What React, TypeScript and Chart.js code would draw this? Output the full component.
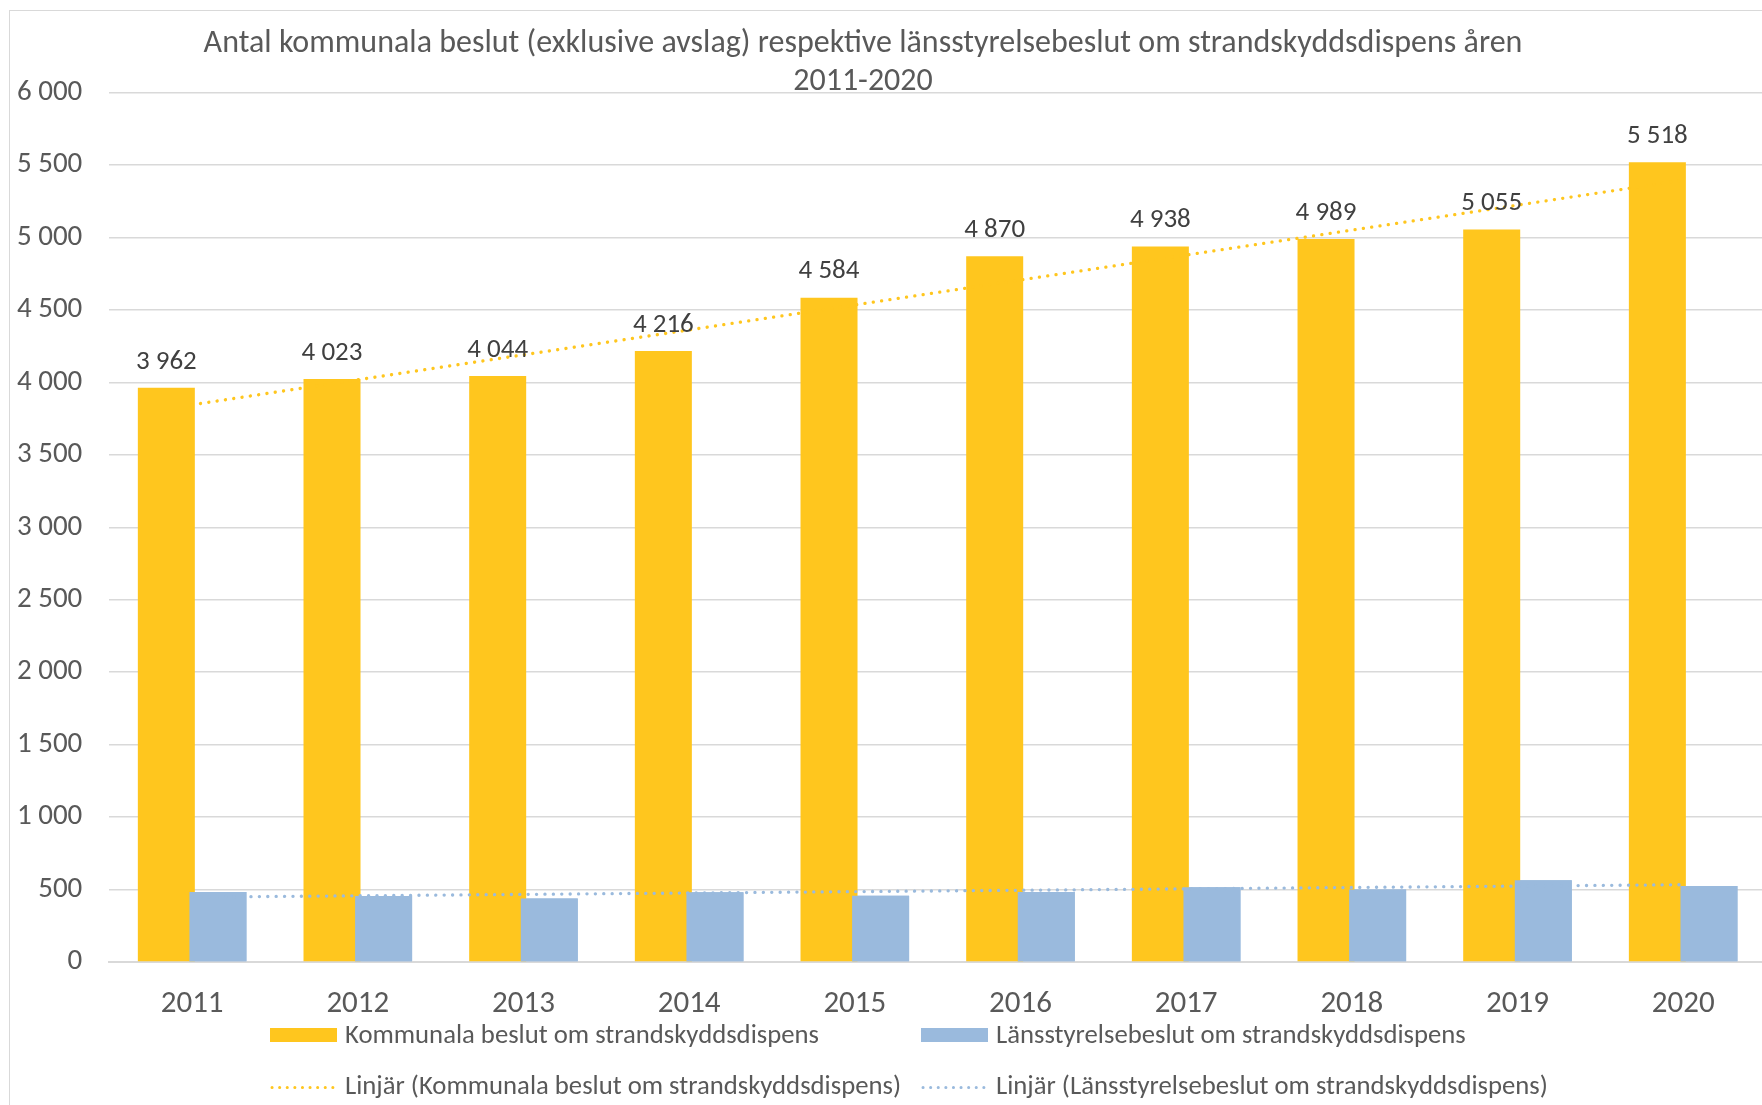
import { useEffect, useRef } from "react";
import { Chart, registerables } from "chart.js";

Chart.register(...registerables);

const years = ["2011", "2012", "2013", "2014", "2015", "2016", "2017", "2018", "2019", "2020"];
const kommunala = [3962, 4023, 4044, 4216, 4584, 4870, 4938, 4989, 5055, 5518];
const lansstyrelse = [483, 456, 438, 481, 458, 483, 516, 500, 564, 525];
const titleLines = [
  "Antal kommunala beslut (exklusive avslag) respektive länsstyrelsebeslut om strandskyddsdispens åren",
  "2011-2020",
];
const seriesNames = ["Kommunala beslut om strandskyddsdispens", "Länsstyrelsebeslut om strandskyddsdispens"];
const trendNames = [
  "Linjär (Kommunala beslut om strandskyddsdispens)",
  "Linjär (Länsstyrelsebeslut om strandskyddsdispens)",
];
const yMin = 0;
const yMax = 6000;
const yStep = 500;

const ORANGE = "#FFC61E";
const BLUE = "#9ABADD";
const TEXT = "#595959";
const LABEL = "#404040";
const GRID = "#D9D9D9";
const FONT = "Calibri, Carlito, Lato, sans-serif";

// least-squares linear trendline computed from the series (like Excel's "Linjär")
function linearTrend(values: number[]): number[] {
  const n = values.length;
  const xs = values.map((_, i) => i + 1);
  const mx = xs.reduce((a, b) => a + b, 0) / n;
  const my = values.reduce((a, b) => a + b, 0) / n;
  let sxy = 0;
  let sxx = 0;
  for (let i = 0; i < n; i++) {
    sxy += (xs[i] - mx) * (values[i] - my);
    sxx += (xs[i] - mx) * (xs[i] - mx);
  }
  const slope = sxy / sxx;
  return xs.map((x) => my + slope * (x - mx));
}

function fmt(v: number): string {
  const n = Math.round(v);
  if (n >= 1000) return `${Math.floor(n / 1000)} ${String(n % 1000).padStart(3, "0")}`;
  return String(n);
}

const CW = 1780;
const CH = 1100;
// chart area inside the canvas
const AREA_LEFT = 99.3;
const AREA_RIGHT = 1756;
const AREA_TOP = 81.5;
const AREA_BOTTOM = 951;
const X_AXIS_H = 60;

const titlePlugin = {
  id: "customTitle",
  afterDraw(chart: any) {
    const ctx = chart.ctx;
    ctx.save();
    ctx.fillStyle = TEXT;
    ctx.font = `32px ${FONT}`;
    ctx.textAlign = "center";
    ctx.textBaseline = "middle";
    ctx.fillText(titleLines[0], 853, 32.5);
    ctx.fillText(titleLines[1], 853, 71);
    ctx.restore();
  },
};

// Excel draws the second series over the first where the bars overlap
const overlapPlugin = {
  id: "overlapOrder",
  afterDatasetDraw(chart: any, args: any) {
    if (args.index === 0) {
      const meta = chart.getDatasetMeta(1);
      if (meta && meta.controller) meta.controller.draw();
    }
  },
};

const dataLabelPlugin = {
  id: "dataLabels",
  afterDatasetsDraw(chart: any) {
    const ctx = chart.ctx;
    const meta = chart.getDatasetMeta(0);
    ctx.save();
    ctx.fillStyle = LABEL;
    ctx.font = `27px ${FONT}`;
    ctx.textAlign = "center";
    ctx.textBaseline = "middle";
    meta.data.forEach((bar: any, i: number) => {
      ctx.fillText(fmt(kommunala[i]), bar.x, bar.y - 26);
    });
    ctx.restore();
  },
};

const legendPlugin = {
  id: "gridLegend",
  afterDraw(chart: any) {
    const ctx = chart.ctx;
    const cols = [260, 911];
    const rows = [1024, 1076.5];
    ctx.save();
    ctx.font = `26.7px ${FONT}`;
    ctx.textBaseline = "middle";
    ctx.textAlign = "left";
    const colors = [ORANGE, BLUE];
    for (let c = 0; c < 2; c++) {
      // bar swatch
      ctx.fillStyle = colors[c];
      ctx.fillRect(cols[c], rows[0] - 7, 67, 14);
      ctx.fillStyle = TEXT;
      ctx.fillText(seriesNames[c], cols[c] + 75, rows[0] + 1);
      // dotted line swatch
      ctx.strokeStyle = colors[c];
      ctx.lineWidth = 3;
      ctx.lineCap = "round";
      ctx.setLineDash([0.1, 7.5]);
      ctx.beginPath();
      ctx.moveTo(cols[c] + 2, rows[1]);
      ctx.lineTo(cols[c] + 67, rows[1]);
      ctx.stroke();
      ctx.setLineDash([]);
      ctx.fillStyle = TEXT;
      ctx.fillText(trendNames[c], cols[c] + 75, rows[1]);
    }
    ctx.restore();
  },
};

export default function App() {
  const ref = useRef<HTMLCanvasElement>(null);

  useEffect(() => {
    if (!ref.current) return;
    const barOpts = { barPercentage: 1.105, categoryPercentage: 0.6228 };
    const chart = new Chart(ref.current, {
      type: "bar",
      data: {
        labels: years,
        datasets: [
          {
            type: "bar",
            label: seriesNames[0],
            data: kommunala,
            backgroundColor: ORANGE,
            ...barOpts,
            order: 2,
          },
          {
            type: "bar",
            label: seriesNames[1],
            data: lansstyrelse,
            backgroundColor: BLUE,
            ...barOpts,
            order: 2,
          },
          {
            type: "line",
            label: trendNames[0],
            data: linearTrend(kommunala),
            borderColor: ORANGE,
            borderWidth: 3.3,
            borderDash: [0.1, 8.3],
            borderCapStyle: "round",
            pointRadius: 0,
            fill: false,
            tension: 0,
            order: 1,
          },
          {
            type: "line",
            label: trendNames[1],
            data: linearTrend(lansstyrelse),
            borderColor: BLUE,
            borderWidth: 3.3,
            borderDash: [0.1, 8.3],
            borderCapStyle: "round",
            pointRadius: 0,
            fill: false,
            tension: 0,
            order: 1,
          },
        ] as any,
      },
      options: {
        responsive: false,
        animation: false,
        events: [],
        layout: {
          padding: {
            left: 0,
            right: CW - AREA_RIGHT,
            top: AREA_TOP,
            bottom: CH - AREA_BOTTOM - X_AXIS_H,
          },
        },
        plugins: {
          legend: { display: false },
          title: { display: false },
          tooltip: { enabled: false },
        },
        scales: {
          x: {
            grid: { display: false },
            border: { display: true, color: GRID, width: 2 },
            ticks: { color: TEXT, font: { family: FONT, size: 31 }, padding: 16, maxRotation: 0 },
            afterFit: (s: any) => {
              s.height = X_AXIS_H;
            },
          },
          y: {
            min: yMin,
            max: yMax,
            ticks: {
              stepSize: yStep,
              padding: 27,
              color: TEXT,
              font: { family: FONT, size: 29 },
              callback: (v: any) => fmt(Number(v)),
            },
            grid: { color: GRID, lineWidth: 1.5, drawTicks: false },
            border: { display: false },
            afterFit: (s: any) => {
              s.width = AREA_LEFT;
            },
          },
        },
      },
      plugins: [titlePlugin, overlapPlugin, dataLabelPlugin, legendPlugin],
    });
    return () => chart.destroy();
  }, []);

  return (
    <div
      style={{
        position: "fixed",
        left: 0,
        top: 0,
        width: 1762,
        height: 1105,
        overflow: "hidden",
        background: "#fff",
      }}
    >
      <div
        style={{
          position: "absolute",
          left: 9,
          top: 10,
          width: 1820,
          height: 1150,
          border: `1px solid ${GRID}`,
          boxSizing: "border-box",
        }}
      >
        <canvas ref={ref} width={CW} height={CH} style={{ display: "block", width: CW, height: CH }} />
      </div>
    </div>
  );
}
